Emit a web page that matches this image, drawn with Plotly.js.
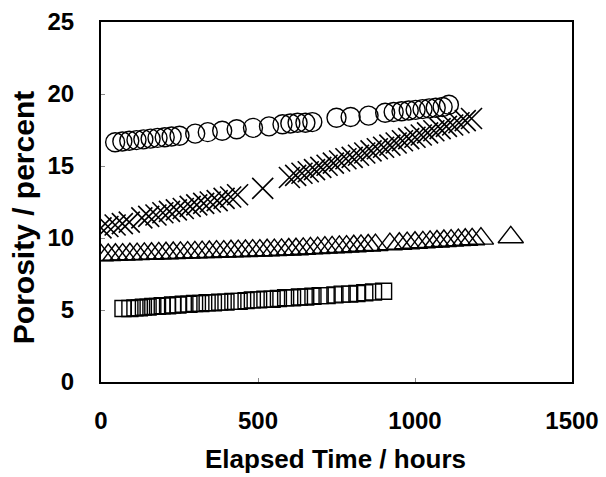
<!DOCTYPE html>
<html>
<head>
<meta charset="utf-8">
<script src="https://cdn.plot.ly/plotly-3.0.1.min.js"></script>
<style>html,body{margin:0;padding:0;background:#fff;}#chart{width:606px;height:477px;}</style>
</head>
<body>
<div id="chart"></div>
<script>
// Circles series
const circleHours = [45, 68, 90, 113, 135, 158, 180, 203, 225, 250, 300, 340, 386, 432, 484, 535, 578, 603, 626, 651, 673, 750, 795, 852, 905, 932, 957, 980, 1002, 1024, 1045, 1066, 1088, 1108];
const circlePorosity = [16.65, 16.7, 16.75, 16.8, 16.85, 16.9, 16.95, 17.0, 17.05, 17.1, 17.25, 17.35, 17.45, 17.55, 17.65, 17.75, 17.9, 17.95, 18.0, 18.0, 18.05, 18.35, 18.4, 18.5, 18.7, 18.75, 18.8, 18.85, 18.9, 18.95, 19.0, 19.05, 19.1, 19.25];

// Crosses series
const crossHours = [0, 22, 45, 68, 90, 130, 152, 175, 197, 218, 240, 262, 284, 305, 327, 348, 370, 392, 413, 435, 515,
  600, 620, 640, 660, 680, 700, 720, 740, 760, 780, 800, 820, 840, 860, 880, 900, 920, 940, 960, 980, 1000, 1020, 1040, 1060, 1080, 1100, 1120, 1140, 1160, 1180];
const crossPorosity = [10.7, 10.8, 10.9, 11.0, 11.1, 11.4, 11.5, 11.6, 11.75, 11.85, 11.95, 12.05, 12.2, 12.3, 12.4, 12.5, 12.6, 12.75, 12.85, 13.0, 13.45,
  14.2, 14.35, 14.5, 14.6, 14.75, 14.9, 15.05, 15.2, 15.35, 15.5, 15.6, 15.75, 15.9, 16.05, 16.2, 16.3, 16.45, 16.6, 16.75, 16.9, 17.0, 17.15, 17.3, 17.45, 17.6, 17.75, 17.85, 18.0, 18.15, 18.3];

// Triangles series
const triangleHours = [0, 23, 46, 69, 92, 115, 138, 161, 184, 207, 230, 253, 276, 299, 322, 345, 368, 391, 414, 437, 460, 483, 506, 529, 552, 575, 598, 621, 644, 667, 690, 713, 736, 759, 782, 805, 828, 851, 874, 920, 950, 975, 1000, 1025, 1048, 1070, 1092, 1115, 1138, 1160, 1182, 1210, 1305];
const trianglePorosity = [8.8, 8.82, 8.84, 8.85, 8.87, 8.88, 8.9, 8.91, 8.93, 8.94, 8.96, 8.97, 8.99, 9.0, 9.02, 9.03, 9.05, 9.06, 9.08, 9.09, 9.1, 9.12, 9.13, 9.15, 9.16, 9.18, 9.2, 9.22, 9.25, 9.28, 9.3, 9.33, 9.35, 9.38, 9.4, 9.43, 9.46, 9.48, 9.51, 9.57, 9.6, 9.64, 9.67, 9.7, 9.73, 9.76, 9.79, 9.82, 9.85, 9.88, 9.91, 9.96, 10.05];

// Squares series
const squareHours = [70, 92, 108, 122, 135, 150, 165, 180, 195, 212, 228, 245, 262, 280, 298, 318, 338, 358, 378, 398, 420, 440, 462, 482, 502, 522, 545, 565, 588, 610, 632, 652, 675, 698, 720, 745, 768, 792, 815, 840, 868, 900];
const squarePorosity = [5.1, 5.1, 5.15, 5.15, 5.2, 5.2, 5.25, 5.25, 5.3, 5.3, 5.35, 5.35, 5.4, 5.4, 5.45, 5.45, 5.5, 5.5, 5.55, 5.55, 5.6, 5.6, 5.65, 5.7, 5.7, 5.75, 5.75, 5.8, 5.85, 5.85, 5.9, 5.9, 5.95, 6.0, 6.0, 6.05, 6.1, 6.1, 6.15, 6.2, 6.25, 6.3];

const xTicks = [0, 500, 1000, 1500];
const yTicks = [0, 5, 10, 15, 20, 25];
const xTitle = 'Elapsed Time / hours';
const yTitle = 'Porosity / percent';

const lineBlack = {color: '#000', width: 1.4};
const traces = [
  {x: circleHours, y: circlePorosity, type: 'scatter', mode: 'markers',
   marker: {symbol: 'circle-open', size: 19, color: '#000', line: lineBlack}},
  {x: crossHours, y: crossPorosity, type: 'scatter', mode: 'markers',
   marker: {symbol: 'x-thin-open', size: 21, color: '#000', line: {color: '#000', width: 1.6}}},
  {x: triangleHours, y: trianglePorosity, type: 'scatter', mode: 'markers',
   marker: {symbol: 'triangle-up-open', size: 22, color: '#000', line: lineBlack}},
  {x: squareHours, y: squarePorosity, type: 'scatter', mode: 'markers',
   marker: {symbol: 'square-open', size: 16, color: '#000', line: lineBlack}}
];

const fontFam = 'Arial, "Liberation Sans", sans-serif';
const layout = {
  width: 606, height: 477,
  margin: {l: 101, r: 34, t: 22, b: 95, pad: 0},
  paper_bgcolor: '#fff', plot_bgcolor: '#fff',
  showlegend: false,
  font: {family: fontFam, color: '#000'},
  xaxis: {
    range: [0, 1500], tickvals: xTicks, ticktext: xTicks.map(String),
    showgrid: false, zeroline: false,
    showline: true, mirror: true, linecolor: '#000', linewidth: 2,
    ticks: 'inside', ticklen: 4, tickcolor: '#888', tickwidth: 1,
    ticklabelstandoff: 16,
    tickfont: {family: fontFam, size: 24, color: '#000', weight: 'bold'}
  },
  yaxis: {
    range: [0, 25], tickvals: yTicks, ticktext: yTicks.map(String),
    showgrid: false, zeroline: false,
    showline: true, mirror: true, linecolor: '#000', linewidth: 2,
    ticks: 'inside', ticklen: 4, tickcolor: '#888', tickwidth: 1,
    ticklabelstandoff: 20,
    tickfont: {family: fontFam, size: 24, color: '#000', weight: 'bold'}
  },
  annotations: [{
    text: '<b>' + yTitle + '</b>', textangle: -90, showarrow: false,
    xref: 'paper', yref: 'paper', x: -0.1656, y: 0.455,
    xanchor: 'center', yanchor: 'middle',
    font: {family: fontFam, size: 30, color: '#000'}
  }, {
    text: '<b>' + xTitle + '</b>', showarrow: false,
    xref: 'paper', yref: 'paper', x: 0.497, y: -0.215,
    xanchor: 'center', yanchor: 'middle',
    font: {family: fontFam, size: 26, color: '#000'}
  }]
};

Plotly.newPlot('chart', traces, layout, {staticPlot: true, displayModeBar: false});
</script>
</body>
</html>
